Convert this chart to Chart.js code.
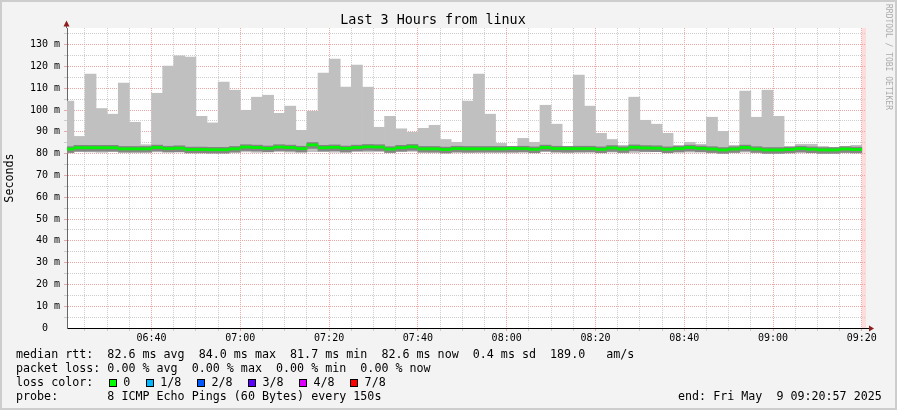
<!DOCTYPE html>
<html>
<head>
<meta charset="utf-8">
<script src="https://cdn.jsdelivr.net/npm/chart.js"></script>
<style>
html, body { margin: 0; padding: 0; background: #f3f3f3; }
#wrap { position: relative; width: 897px; height: 410px; overflow: hidden; }
#chart { position: absolute; left: 0; top: 0; }
#frame { position: absolute; left: 0; top: 0; width: 897px; height: 410px; box-sizing: border-box;
  border: 2px solid #cdcdcd; pointer-events: none; }
.lg { position: absolute; left: 16px; font: 11.68px 'DejaVu Sans Mono', monospace; line-height: 14px;
  white-space: pre; color: #000; }
#credit { position: absolute; left: 883px; top: 4px; writing-mode: vertical-rl; font: 8px 'DejaVu Sans Mono', monospace;
  line-height: 10px; color: #ababab; white-space: pre; }
.box { display: inline-block; width: 8px; height: 8px; box-sizing: border-box; border: 1px solid #000;
  position: relative; top: 1px; margin-right: 6.6px; }
.lt { margin-right: 15.4px; }
</style>
</head>
<body>
<div id="wrap">
  <canvas id="chart" width="897" height="410"></canvas>
  <div id="frame"></div>
  <div id="credit">RRDTOOL / TOBI OETIKER</div>
  <div class="lg" style="top:347px">median rtt:  82.6 ms avg  84.0 ms max  81.7 ms min  82.6 ms now  0.4 ms sd  189.0   am/s</div>
  <div class="lg" style="top:361px">packet loss: 0.00 % avg  0.00 % max  0.00 % min  0.00 % now</div>
  <div class="lg" style="top:375px">loss color:</div>
  <div class="lg" id="losses" style="top:375px;left:108.7px"></div>
  <div class="lg" style="top:389px">probe:       8 ICMP Echo Pings (60 Bytes) every 150s</div>
  <div class="lg" style="top:389px;left:678px">end: Fri May  9 09:20:57 2025</div>
</div>
<script>
'use strict';
// one value per 150 s sample, oldest first (first one starts 06:20:00)
var maxRtt = [
  104.1, 87.9, 116.5, 100.7, 98.1, 112.4, 94.4, 84.1, 107.7, 120.2, 124.9, 124.3,
  97.1, 94.1, 112.8, 109.1, 99.9, 105.9, 106.8, 98.5, 101.8, 90.7, 99.4, 117.0,
  123.4, 110.5, 120.6, 110.5, 92.1, 97.1, 91.4, 89.8, 91.6, 93.0, 86.5, 85.2,
  104.1, 116.5, 98.1, 84.7, 83.3, 87.0, 85.2, 102.2, 93.5, 83.3, 116.0, 101.8,
  89.3, 86.5, 83.8, 105.9, 95.3, 93.5, 89.3, 83.8, 85.2, 84.3, 96.7, 90.2,
  83.8, 108.7, 96.7, 109.1, 97.1, 83.3, 84.3, 84.3, 83.3, 82.9, 83.3, 83.8
];
var minRtt = [
  80.3, 80.9, 80.8, 80.6, 80.9, 81.2, 81.0, 80.9, 80.8, 81.0, 80.7, 81.0,
  81.1, 80.9, 81.0, 80.9, 80.8, 80.6, 81.1, 80.9, 80.7, 80.8, 80.9, 81.0,
  80.7, 80.6, 81.0, 80.8, 80.9, 80.6, 80.9, 81.0, 80.8, 80.7, 80.3, 80.7,
  80.6, 80.8, 80.9, 81.0, 80.4, 80.9, 80.8, 80.9, 80.8, 80.4, 80.8, 80.9,
  80.8, 80.7, 80.6, 80.5, 80.8, 80.9, 81.0, 80.9, 80.7, 80.8, 80.3, 80.6,
  80.8, 80.7, 80.8, 80.6, 80.5, 80.7, 80.6, 80.8, 80.5, 80.6, 80.7, 80.5
];
var medianRtt = [
  82.1, 82.7, 82.7, 82.7, 82.7, 82.2, 82.2, 82.2, 82.8, 82.3, 82.5, 81.9,
  81.9, 81.8, 81.8, 82.2, 83.0, 82.8, 82.4, 83.0, 82.8, 82.3, 84.0, 82.7,
  82.9, 82.4, 82.8, 83.1, 83.0, 82.1, 82.7, 83.1, 82.2, 82.2, 81.9, 82.3,
  82.2, 82.2, 82.2, 82.2, 82.4, 82.3, 82.0, 82.8, 82.3, 82.3, 82.3, 82.3,
  82.0, 82.6, 82.1, 82.9, 82.6, 82.5, 82.0, 82.3, 82.8, 82.4, 82.1, 81.7,
  82.1, 82.8, 82.1, 81.7, 81.7, 81.9, 82.3, 82.0, 81.7, 81.7, 82.1, 81.9
];
var hourLabels = ['06:40', '07:00', '07:20', '07:40', '08:00', '08:20', '08:40', '09:00', '09:20'];
var lossLabels = ['0', '1/8', '2/8', '3/8', '4/8', '7/8'];
var lossColors = ['#00ff00', '#00b8ff', '#0059ff', '#5e00ff', '#dd00ff', '#ff0000'];

var MONO = "'DejaVu Sans Mono', monospace";
var RED = '#eba6a6';
var GRAY = '#cdcdcd';
var STEP = 2.5;                    // minutes per sample
var FIRST = 6 * 60 + 20;           // 06:20:00
var VIEW_START = FIRST + 57 / 60;  // 06:20:57
var VIEW_END = VIEW_START + 180;   // 09:20:57
var DATA_END = FIRST + STEP * maxRtt.length;

function toMin(s) {
  var p = s.split(':');
  return Number(p[0]) * 60 + Number(p[1]);
}
var hourMinutes = hourLabels.map(toMin);

function slot(i) { return FIRST + STEP * (i + 0.5); }

var smoke = maxRtt.map(function(v, i) { return {x: slot(i), y: [minRtt[i], v]}; });
// darker core of the smoke and the median band (fixed thickness around the median)
var core = medianRtt.map(function(m, i) { return {x: slot(i), y: [m - 1.6, Math.min(m + 1.1, maxRtt[i])]}; });
var median = medianRtt.map(function(m, i) { return {x: slot(i), y: [m - 0.5, m + 0.5]}; });

var losses = document.getElementById('losses');
lossLabels.forEach(function(l, i) {
  var b = document.createElement('span');
  b.className = 'box';
  b.style.background = lossColors[i];
  var t = document.createElement('span');
  t.className = 'lt';
  t.textContent = l;
  losses.appendChild(b);
  losses.appendChild(t);
});

var frame = {
  id: 'frame',
  beforeDraw: function(c) {
    var g = c.ctx, a = c.chartArea;
    g.save();
    g.fillStyle = '#f3f3f3';
    g.fillRect(0, 0, c.width, c.height);
    g.fillStyle = '#ffffff';
    g.fillRect(a.left, a.top, a.right - a.left, a.bottom - a.top);
    var px = c.scales.x.getPixelForValue(DATA_END);
    g.fillStyle = '#ffdcdc';
    g.fillRect(px, a.top, a.right - px, a.bottom - a.top);
    g.restore();
  },
  afterDraw: function(c) {
    var g = c.ctx, a = c.chartArea;
    g.save();
    g.strokeStyle = '#666';
    g.lineWidth = 1;
    g.beginPath();
    g.moveTo(a.left - 0.5, a.top);
    g.lineTo(a.left - 0.5, 22);
    g.stroke();
    g.strokeStyle = '#000';
    g.beginPath();
    g.moveTo(a.right, a.bottom + 0.5);
    g.lineTo(a.right + 4, a.bottom + 0.5);
    g.stroke();
    g.fillStyle = '#8e1e1e';
    g.beginPath();
    g.moveTo(a.left - 3.5, 26.5);
    g.lineTo(a.left + 2.5, 26.5);
    g.lineTo(a.left - 0.5, 20.5);
    g.closePath();
    g.fill();
    g.beginPath();
    g.moveTo(a.right + 3, a.bottom - 2.5);
    g.lineTo(a.right + 3, a.bottom + 3.5);
    g.lineTo(a.right + 8, a.bottom + 0.5);
    g.closePath();
    g.fill();
    g.restore();
  }
};

new Chart(document.getElementById('chart'), {
  type: 'bar',
  data: {
    datasets: [
      {label: 'median rtt', data: median, backgroundColor: '#00f500', grouped: false, order: 0},
      {label: 'smoke core', data: core, backgroundColor: '#858585', grouped: false, order: 1},
      {label: 'smoke', data: smoke, backgroundColor: '#c0c0c0', grouped: false, order: 2}
    ]
  },
  options: {
    responsive: false,
    animation: false,
    events: [],
    layout: {padding: {left: 0, right: 31, top: 0, bottom: 0}},
    datasets: {bar: {barPercentage: 1, categoryPercentage: 1, borderWidth: 0}},
    plugins: {
      legend: {display: false},
      tooltip: {enabled: false},
      title: {
        display: true,
        text: 'Last 3 Hours from linux',
        color: '#000',
        font: {family: MONO, size: 13.4, weight: 'normal'},
        padding: {top: 12, bottom: 0}
      }
    },
    scales: {
      x: {
        type: 'linear',
        offset: false,
        min: VIEW_START,
        max: VIEW_END,
        afterFit: function(s) { s.height = 82; },
        afterBuildTicks: function(s) {
          var t = [];
          for (var m = 385; m <= 560; m += 5) t.push({value: m});
          s.ticks = t;
        },
        ticks: {
          autoSkip: false,
          maxRotation: 0,
          padding: 1,
          color: '#000',
          font: {family: MONO, size: 10},
          callback: function(v) {
            var i = hourMinutes.indexOf(v);
            return i < 0 ? '' : hourLabels[i];
          }
        },
        grid: {
          offset: false,
          color: function(c) { return c.tick && c.tick.value % 20 === 0 ? RED : GRAY; },
          tickLength: 3
        },
        border: {color: '#000', dash: [1, 1]}
      },
      y: {
        min: 0,
        max: 137.6,
        afterFit: function(s) { s.width = 67; },
        afterBuildTicks: function(s) {
          var t = [];
          for (var v = 0; v <= 135; v += 5) t.push({value: v});
          s.ticks = t;
        },
        ticks: {
          autoSkip: false,
          padding: 4,
          color: '#000',
          font: {family: MONO, size: 10},
          callback: function(v) { return v % 10 ? '' : (v ? v + ' m' : '0  '); }
        },
        grid: {
          color: function(c) {
            if (!c.tick || c.tick.value === 0) return 'rgba(0,0,0,0)';
            return c.tick.value % 10 === 0 ? RED : GRAY;
          },
          tickLength: 3
        },
        border: {color: '#666', dash: [1, 1]},
        title: {
          display: true,
          text: 'Seconds',
          color: '#000',
          font: {family: MONO, size: 11.68},
          padding: {top: 3, bottom: 0}
        }
      }
    }
  },
  plugins: [frame]
});
</script>
</body>
</html>
